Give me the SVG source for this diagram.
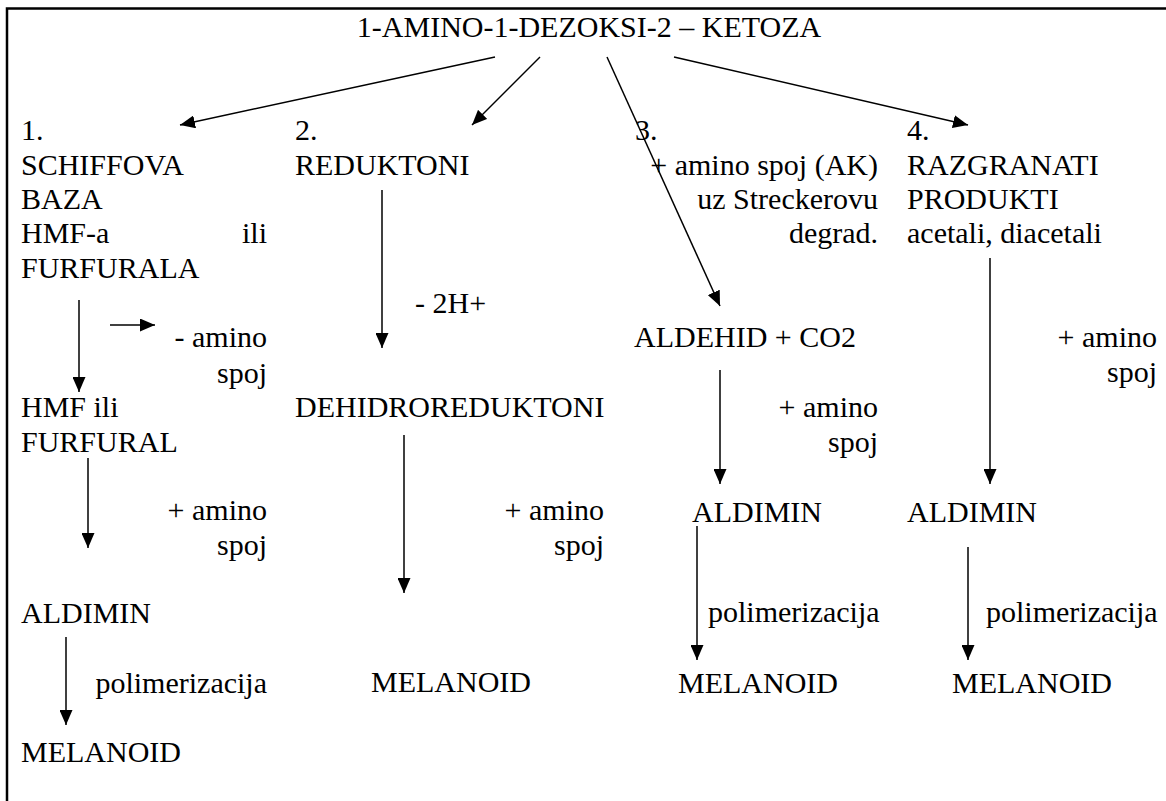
<svg xmlns="http://www.w3.org/2000/svg" width="1166" height="801" viewBox="0 0 1166 801">
  <style>
    text { font-family: "Liberation Serif", "Times New Roman", serif; font-size: 30px; fill: #000; }
    .r { text-anchor: end; }
    .c { text-anchor: middle; }
    .ln { stroke: #000; stroke-width: 1.5; fill: none; marker-end: url(#ah); }
    .frame { stroke: #000; stroke-width: 2.5; fill: none; }
  </style>
  <defs>
    <marker id="ah" markerUnits="userSpaceOnUse" markerWidth="15" markerHeight="13" refX="15" refY="6.5" orient="auto">
      <path d="M0,0 L15,6.5 L0,13 z" fill="#000"/>
    </marker>
  </defs>
  <rect width="1166" height="801" fill="#fff"/>
  <!-- outer frame: top and left edges -->
  <path class="frame" d="M7,801 V8.5 H1166"/>

  <g id="root">
    <text class="c" x="589" y="37">1-AMINO-1-DEZOKSI-2 – KETOZA</text>
  </g>

  <!-- column 1 -->
  <g id="schiff">
    <text x="21" y="140">1.</text>
    <text x="21" y="175">SCHIFFOVA</text>
    <text x="21" y="209">BAZA</text>
    <text x="21" y="243">HMF-a</text>
    <text class="r" x="267" y="243">ili</text>
    <text x="21" y="278">FURFURALA</text>
  </g>
  <g id="hmf">
    <text x="21" y="417">HMF ili</text>
    <text x="21" y="452">FURFURAL</text>
  </g>
  <g id="aldimin1"><text x="21" y="623">ALDIMIN</text></g>
  <g id="melanoid1"><text x="21" y="762">MELANOID</text></g>

  <!-- column 2 -->
  <g id="reduktoni">
    <text x="295" y="140">2.</text>
    <text x="295" y="175">REDUKTONI</text>
  </g>
  <g id="dehidro"><text x="295" y="417">DEHIDROREDUKTONI</text></g>
  <g id="melanoid2"><text x="371" y="692">MELANOID</text></g>

  <!-- column 3 -->
  <g id="strecker">
    <text x="635" y="140">3.</text>
    <text class="r" x="878" y="175">+ amino spoj (AK)</text>
    <text class="r" x="878" y="209">uz Streckerovu</text>
    <text class="r" x="878" y="243">degrad.</text>
  </g>
  <g id="aldehid"><text x="634" y="347">ALDEHID + CO2</text></g>
  <g id="aldimin3"><text x="692" y="522">ALDIMIN</text></g>
  <g id="melanoid3"><text x="678" y="693">MELANOID</text></g>

  <!-- column 4 -->
  <g id="razgranati">
    <text x="907" y="140">4.</text>
    <text x="907" y="175">RAZGRANATI</text>
    <text x="907" y="209">PRODUKTI</text>
    <text x="907" y="243">acetali, diacetali</text>
  </g>
  <g id="aldimin4"><text x="907" y="522">ALDIMIN</text></g>
  <g id="melanoid4"><text x="952" y="693">MELANOID</text></g>

  <!-- reaction labels -->
  <g id="labels">
    <text class="r" x="267" y="347">- amino</text>
    <text class="r" x="267" y="383">spoj</text>
    <text class="r" x="267" y="520">+ amino</text>
    <text class="r" x="267" y="555">spoj</text>
    <text class="r" x="267" y="693">polimerizacija</text>
    <text x="415" y="313">- 2H+</text>
    <text class="r" x="604" y="520">+ amino</text>
    <text class="r" x="604" y="555">spoj</text>
    <text class="r" x="878" y="417">+ amino</text>
    <text class="r" x="878" y="452">spoj</text>
    <text x="708" y="622">polimerizacija</text>
    <text class="r" x="1157" y="347">+ amino</text>
    <text class="r" x="1157" y="382">spoj</text>
    <text x="986" y="622">polimerizacija</text>
  </g>

  <!-- connectors -->
  <g id="connectors">
    <line class="ln" x1="495" y1="57" x2="180" y2="125"/>
    <line class="ln" x1="540" y1="57" x2="472" y2="125"/>
    <line class="ln" x1="607" y1="57" x2="720" y2="306"/>
    <line class="ln" x1="674" y1="57" x2="968" y2="125"/>

    <line class="ln" x1="79" y1="300" x2="79" y2="392"/>
    <line class="ln" x1="110" y1="325" x2="155" y2="325"/>
    <line class="ln" x1="88" y1="458" x2="88" y2="548"/>
    <line class="ln" x1="66" y1="637" x2="66" y2="725"/>

    <line class="ln" x1="382" y1="190" x2="382" y2="348"/>
    <line class="ln" x1="404" y1="435" x2="404" y2="593"/>

    <line class="ln" x1="720" y1="370" x2="720" y2="484"/>
    <line class="ln" x1="697" y1="526" x2="697" y2="660"/>

    <line class="ln" x1="990" y1="258" x2="990" y2="484"/>
    <line class="ln" x1="968" y1="547" x2="968" y2="660"/>
  </g>
</svg>
